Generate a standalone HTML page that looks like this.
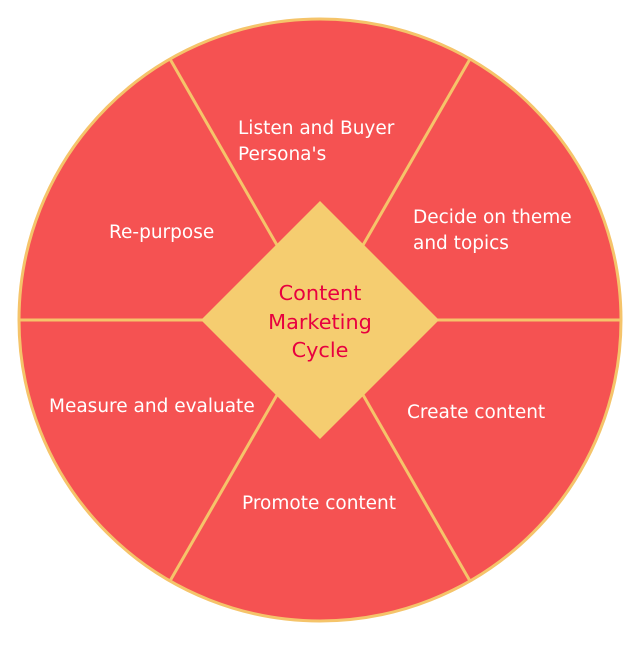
<!DOCTYPE html>
<html><head><style>body{margin:0;background:#fff}</style></head><body>
<svg width="640" height="640" viewBox="0 0 640 640" xmlns="http://www.w3.org/2000/svg" font-family="DejaVu Sans, Liberation Sans, sans-serif" font-size="18.5">
<circle cx="320" cy="320" r="301" fill="#f55252" stroke="#f5c46a" stroke-width="3"/>
<g stroke="#f5c46a" stroke-width="3">
<line x1="19" y1="320" x2="621" y2="320"/>
<line x1="170" y1="59" x2="470" y2="581"/>
<line x1="470" y1="59" x2="170" y2="581"/>
</g>
<polygon points="320,201 439,320 320,439 201,320" fill="#f5cd70"/>
<g fill="#fff">
<text x="238" y="134">Listen and Buyer</text>
<text x="238" y="160">Persona's</text>
<text x="413" y="223">Decide on theme</text>
<text x="413" y="249">and topics</text>
<text x="109" y="238">Re-purpose</text>
<text x="407" y="418">Create content</text>
<text x="49" y="412">Measure and evaluate</text>
<text x="242" y="509">Promote content</text>
</g>
<g fill="#e8003f" text-anchor="middle" font-size="20.8">
<text x="320" y="300">Content</text>
<text x="320" y="329">Marketing</text>
<text x="320" y="357">Cycle</text>
</g>
</svg>
</body></html>
